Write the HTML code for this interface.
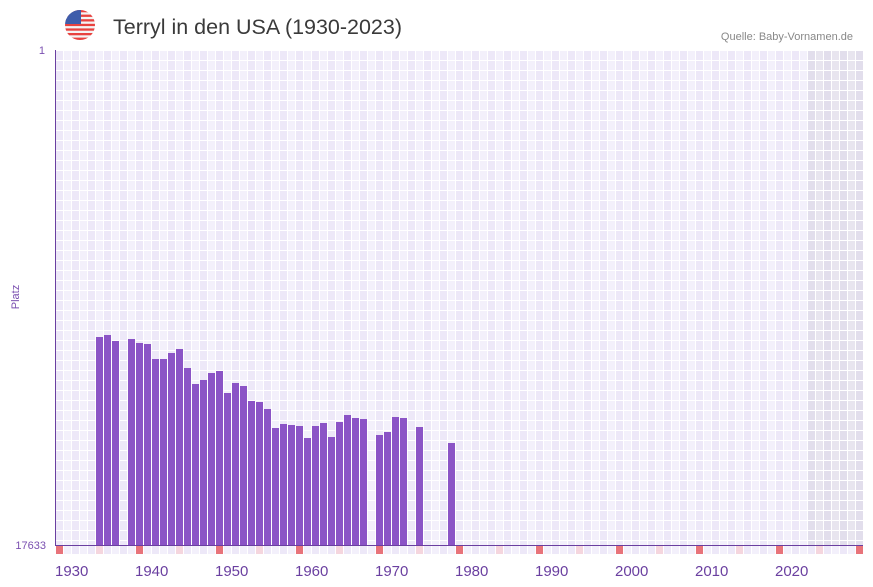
<!DOCTYPE html>
<html><head><meta charset="utf-8">
<style>
html,body{margin:0;padding:0;background:#fff;}
svg{display:block;}
text{font-family:"Liberation Sans",sans-serif;}
</style></head>
<body>
<svg width="873" height="587" viewBox="0 0 873 587" xmlns="http://www.w3.org/2000/svg">
<defs>
<pattern id="gp" x="56" y="51" width="16" height="10" patternUnits="userSpaceOnUse">
<rect x="0" y="0" width="7" height="9" fill="#ede8f8"/>
<rect x="8" y="0" width="7" height="9" fill="#f3f0fb"/>
</pattern>
<pattern id="gg" x="56" y="51" width="16" height="10" patternUnits="userSpaceOnUse">
<rect x="0" y="0" width="7" height="9" fill="#e2deec"/>
<rect x="8" y="0" width="7" height="9" fill="#e8e5ef"/>
</pattern>
<pattern id="bp" x="56" y="546" width="16" height="8" patternUnits="userSpaceOnUse">
<rect x="0" y="0" width="7" height="8" fill="#ede8f8"/>
<rect x="8" y="0" width="7" height="8" fill="#f3f0fb"/>
</pattern>
<clipPath id="fc"><circle cx="80" cy="25" r="15"/></clipPath>
</defs>

<!-- flag -->
<g clip-path="url(#fc)">
<rect x="64" y="9" width="32" height="32" fill="#f4f4f4"/>
<rect x="64" y="10" width="32" height="2.3" fill="#e8423f"/>
<rect x="64" y="14.6" width="32" height="2.3" fill="#e8423f"/>
<rect x="64" y="19.2" width="32" height="2.3" fill="#e8423f"/>
<rect x="64" y="23.8" width="32" height="2.3" fill="#e8423f"/>
<rect x="64" y="28.4" width="32" height="2.3" fill="#e8423f"/>
<rect x="64" y="33" width="32" height="2.3" fill="#e8423f"/>
<rect x="64" y="37.6" width="32" height="3" fill="#e8423f"/>
<rect x="64" y="9" width="17" height="15" fill="#3f5dab"/>
</g>

<text x="113" y="34" font-size="21" fill="#3a3a3a" textLength="289" lengthAdjust="spacingAndGlyphs">Terryl in den USA (1930-2023)</text>
<text x="853" y="40" font-size="11" fill="#888" text-anchor="end">Quelle: Baby-Vornamen.de</text>

<!-- grid -->
<rect x="56" y="50" width="752" height="495" fill="url(#gp)"/>
<rect x="808" y="50" width="55" height="495" fill="url(#gg)"/>

<!-- bottom row -->
<rect x="56" y="546" width="807" height="8" fill="url(#bp)"/>
<g fill="#e8737a">
<rect x="56" y="546" width="7" height="8"/><rect x="136" y="546" width="7" height="8"/><rect x="216" y="546" width="7" height="8"/><rect x="296" y="546" width="7" height="8"/><rect x="376" y="546" width="7" height="8"/><rect x="456" y="546" width="7" height="8"/><rect x="536" y="546" width="7" height="8"/><rect x="616" y="546" width="7" height="8"/><rect x="696" y="546" width="7" height="8"/><rect x="776" y="546" width="7" height="8"/><rect x="856" y="546" width="7" height="8"/>
</g>
<g fill="#f5d6de">
<rect x="96" y="546" width="7" height="8"/><rect x="176" y="546" width="7" height="8"/><rect x="256" y="546" width="7" height="8"/><rect x="336" y="546" width="7" height="8"/><rect x="416" y="546" width="7" height="8"/><rect x="496" y="546" width="7" height="8"/><rect x="576" y="546" width="7" height="8"/><rect x="656" y="546" width="7" height="8"/><rect x="736" y="546" width="7" height="8"/><rect x="816" y="546" width="7" height="8"/>
</g>

<!-- bars -->
<g fill="#8b54c6">
<rect x="96" y="337" width="7" height="208"/>
<rect x="104" y="335" width="7" height="210"/>
<rect x="112" y="341" width="7" height="204"/>
<rect x="128" y="339" width="7" height="206"/>
<rect x="136" y="343" width="7" height="202"/>
<rect x="144" y="344" width="7" height="201"/>
<rect x="152" y="359" width="7" height="186"/>
<rect x="160" y="359" width="7" height="186"/>
<rect x="168" y="353" width="7" height="192"/>
<rect x="176" y="349" width="7" height="196"/>
<rect x="184" y="368" width="7" height="177"/>
<rect x="192" y="384" width="7" height="161"/>
<rect x="200" y="380" width="7" height="165"/>
<rect x="208" y="373" width="7" height="172"/>
<rect x="216" y="371" width="7" height="174"/>
<rect x="224" y="393" width="7" height="152"/>
<rect x="232" y="383" width="7" height="162"/>
<rect x="240" y="386" width="7" height="159"/>
<rect x="248" y="401" width="7" height="144"/>
<rect x="256" y="402" width="7" height="143"/>
<rect x="264" y="409" width="7" height="136"/>
<rect x="272" y="428" width="7" height="117"/>
<rect x="280" y="424" width="7" height="121"/>
<rect x="288" y="425" width="7" height="120"/>
<rect x="296" y="426" width="7" height="119"/>
<rect x="304" y="438" width="7" height="107"/>
<rect x="312" y="426" width="7" height="119"/>
<rect x="320" y="423" width="7" height="122"/>
<rect x="328" y="437" width="7" height="108"/>
<rect x="336" y="422" width="7" height="123"/>
<rect x="344" y="415" width="7" height="130"/>
<rect x="352" y="418" width="7" height="127"/>
<rect x="360" y="419" width="7" height="126"/>
<rect x="376" y="435" width="7" height="110"/>
<rect x="384" y="432" width="7" height="113"/>
<rect x="392" y="417" width="7" height="128"/>
<rect x="400" y="418" width="7" height="127"/>
<rect x="416" y="427" width="7" height="118"/>
<rect x="448" y="443" width="7" height="102"/>
</g>

<!-- axes -->
<rect x="55" y="50" width="1" height="496" fill="#6a3fa0"/>
<rect x="55" y="545" width="808" height="1" fill="#6a3fa0"/>

<!-- y labels -->
<g font-size="11" fill="#7a4fb0">
<text x="45" y="54" text-anchor="end">1</text>
<text x="46" y="549" text-anchor="end">17633</text>
<text transform="translate(19,297) rotate(-90)" text-anchor="middle">Platz</text>
</g>

<!-- x labels -->
<g font-size="15" fill="#6a3fa0">
<text x="55" y="576">1930</text>
<text x="135" y="576">1940</text>
<text x="215" y="576">1950</text>
<text x="295" y="576">1960</text>
<text x="375" y="576">1970</text>
<text x="455" y="576">1980</text>
<text x="535" y="576">1990</text>
<text x="615" y="576">2000</text>
<text x="695" y="576">2010</text>
<text x="775" y="576">2020</text>
</g>
</svg>
</body></html>
